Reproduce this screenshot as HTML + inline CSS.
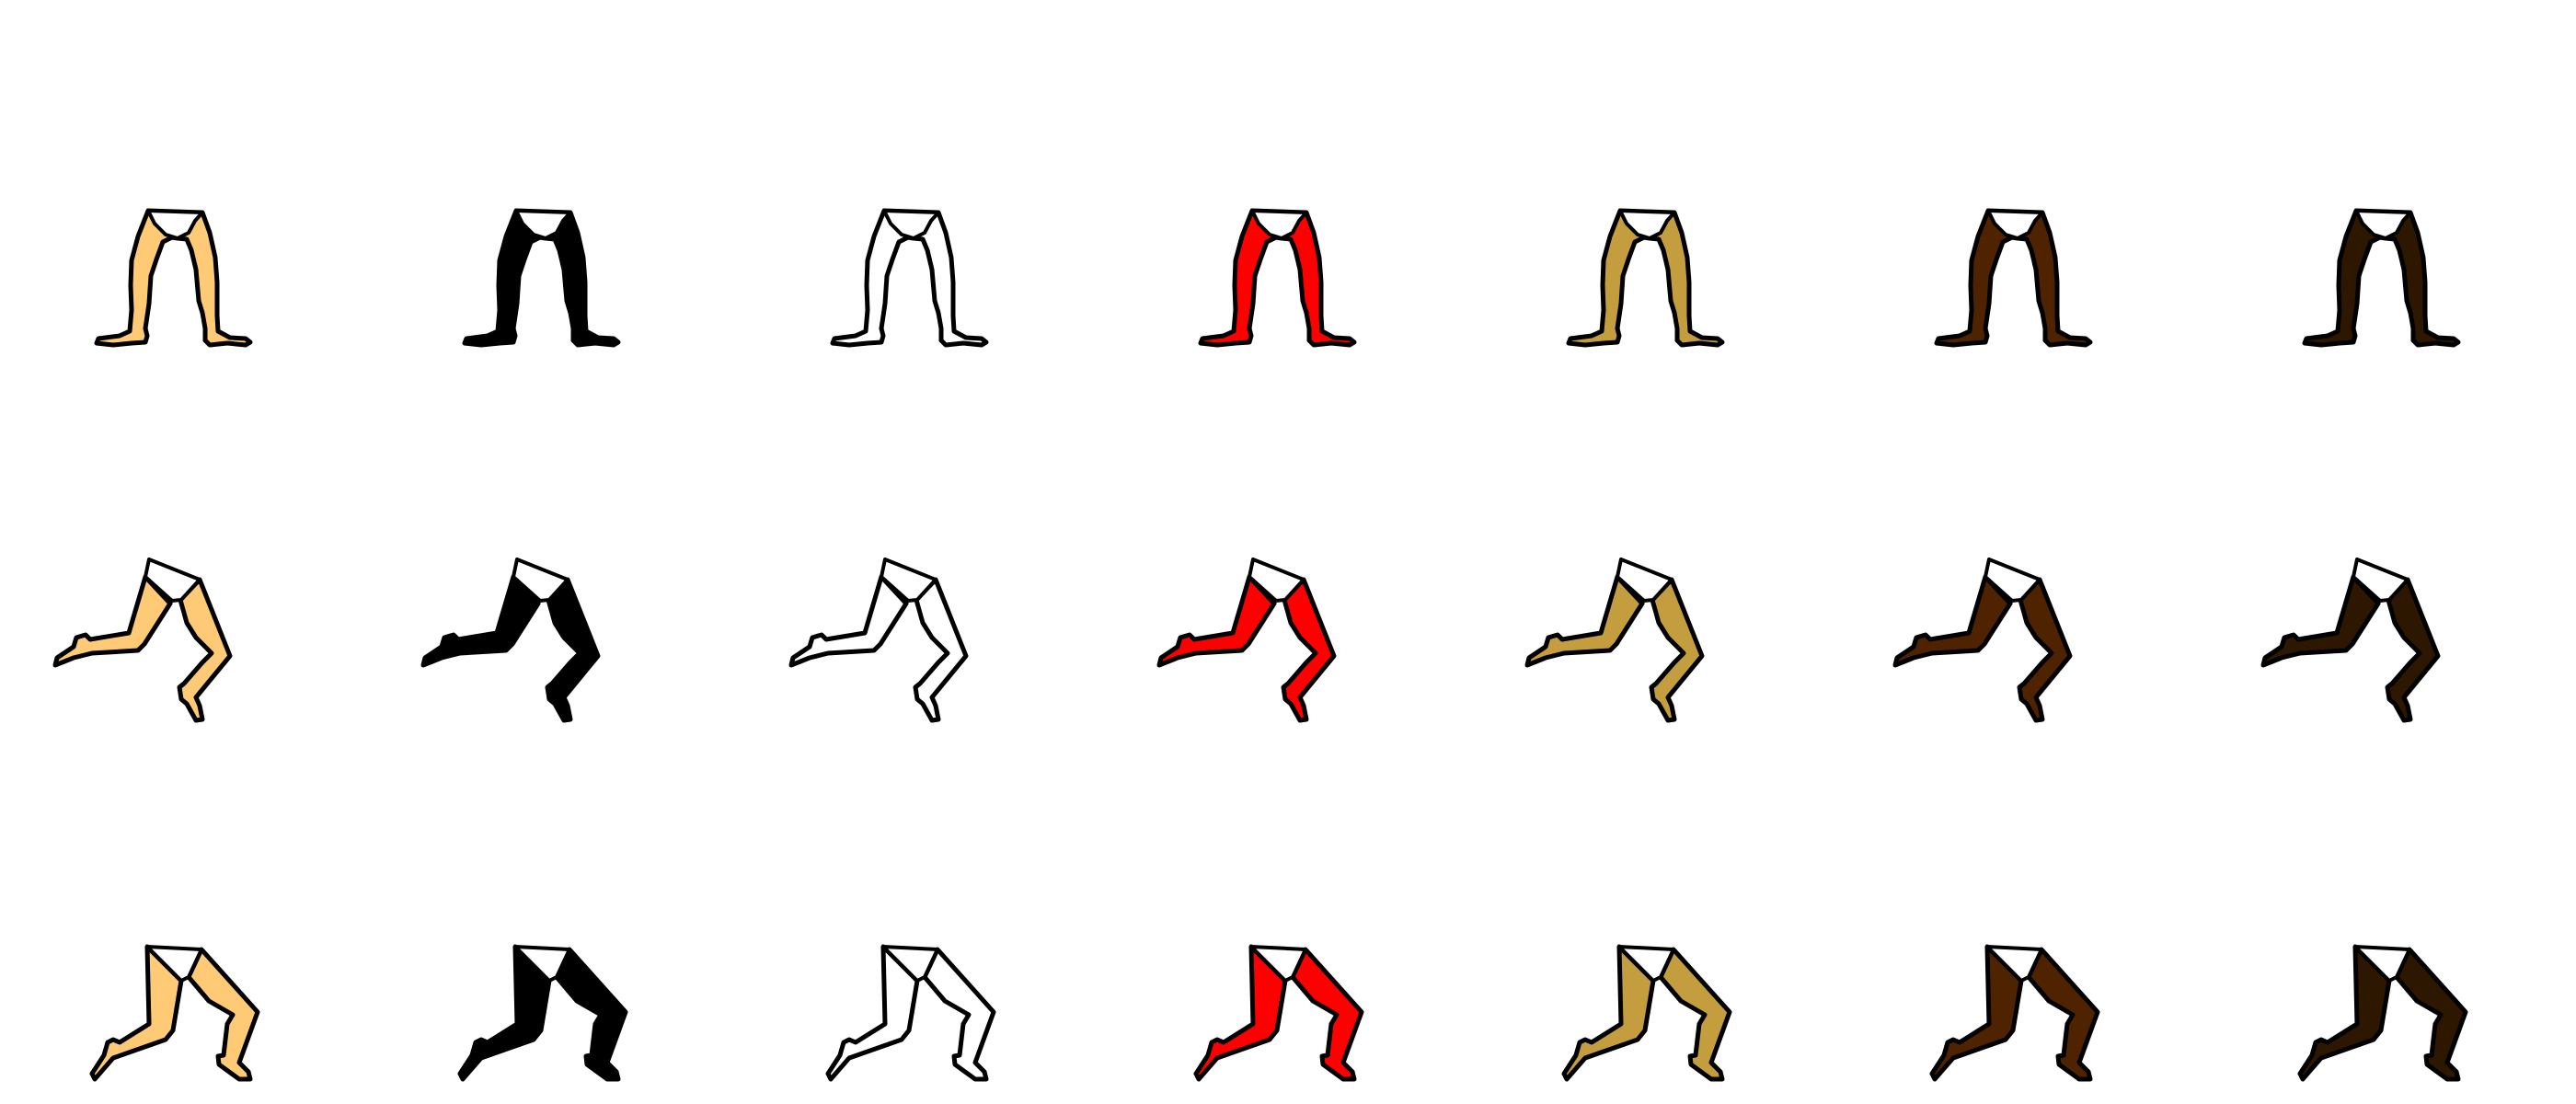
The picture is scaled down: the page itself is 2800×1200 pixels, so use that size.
<!DOCTYPE html>
<html><head><meta charset="utf-8"><style>
html,body{margin:0;padding:0;background:#fff;}
svg{display:block;}
</style></head><body>
<svg id="sheet" width="2800" height="1200" viewBox="0 0 2800 1200" xmlns="http://www.w3.org/2000/svg">
<rect width="2800" height="1200" fill="#fff"/>
</svg>
<script>
const skinColors = ["#FECA76","#000000","#FFFFFF","#FF0000","#C49E3E","#4F2300","#2E1700"];
const colorNames = ["peach","black","white","red","tan","brown","dark-brown"];
const poseNames = ["standing","running","walking"];
const colStep = 400;
const poses = [
 {legs:["161,229 150,257 143,283 142,310 143,337 141,360 130,365 107,368 105,373 123,375 143,373 158,372 160,365 158,357 162,330 164,300 170,282 177,263 187,258 193,259 203,260 208,272 213,293 216,327 220,340 223,357 223,370 228,375 247,373 267,375 272,372 267,368 250,367 237,360 236,343 236,307 234,280 228,253 220,231"],
  brief:"161,229 220,231 212,240 205,253 193,259 180,255 168,243"},
 {legs:["158,627 140,688 98,695 93,690 83,693 80,703 62,715 60,723 80,715 100,710 150,707 157,700 185,656",
        "196,652 203,677 213,693 230,710 220,720 200,743 195,747 197,760 203,765 213,783 220,782 217,767 213,758 250,713 217,630"],
  brief:"162,608 217,630 197,652 187,653 158,627"},
 {legs:["160,1029 162,1113 130,1133 123,1130 117,1133 113,1147 100,1167 103,1173 123,1150 180,1130 188,1120 197,1066",
        "205,1062 227,1088 253,1103 247,1113 243,1147 237,1148 238,1157 260,1173 272,1173 270,1165 260,1155 280,1100 219,1032"],
  brief:"160,1029 219,1032 205,1062 197,1066"}
];
const svg = document.getElementById('sheet');
const NS = "http://www.w3.org/2000/svg";
poses.forEach((p, r) => {
  skinColors.forEach((c, i) => {
    const g = document.createElementNS(NS, 'g');
    
    
    g.setAttribute('transform', 'translate(' + (i * colStep) + ',0)');
    p.legs.forEach(pts => {
      const pl = document.createElementNS(NS, 'polygon');
      
      
      pl.setAttribute('points', pts);
      pl.setAttribute('fill', c);
      pl.setAttribute('stroke', '#000');
      pl.setAttribute('stroke-width', '5');
      pl.setAttribute('stroke-linejoin', 'round');
      g.appendChild(pl);
    });
    const b = document.createElementNS(NS, 'polygon');
    
    
    b.setAttribute('points', p.brief);
    b.setAttribute('fill', '#fff');
    b.setAttribute('stroke', '#000');
    b.setAttribute('stroke-width', '4');
    b.setAttribute('stroke-linejoin', 'round');
    g.appendChild(b);
    svg.appendChild(g);
  });
});
</script>
</body></html>
